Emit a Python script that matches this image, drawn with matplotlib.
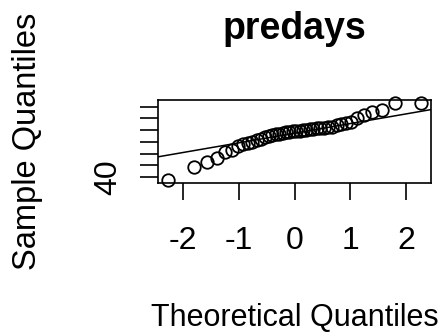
import numpy as np
import matplotlib.pyplot as plt
from statistics import NormalDist

# sorted sample values of predays
predays = [37.5, 48.5, 52.5, 56, 61, 63, 66, 68, 69, 70,
           71.5, 72.5, 74, 75, 76, 76.5, 77, 77.5, 78, 78.5,
           79, 79, 79.5, 80, 80, 80.5, 81, 81.5, 82, 82,
           82.5, 83, 84, 85, 86, 87, 90, 93, 95, 97,
           103, 103]
x_ticks = [-2, -1, 0, 1, 2]
x_labels = ['-2', '-1', '0', '1', '2']
y_ticks = [40, 50, 60, 70, 80, 90, 100]
y_labels = ['40', '', '', '', '', '', '']

plt.rcParams['font.family'] = ['Liberation Sans', 'DejaVu Sans']

# theoretical quantiles like R's qqnorm (ppoints)
n = len(predays)
y = np.sort(np.array(predays, dtype=float))
p = (np.arange(1, n + 1) - 0.5) / n
q = np.array([NormalDist().inv_cdf(v) for v in p])

# qqline through the quartiles
y1, y3 = np.quantile(y, [0.25, 0.75])
x1, x3 = NormalDist().inv_cdf(0.25), NormalDist().inv_cdf(0.75)
slope = (y3 - y1) / (x3 - x1)
inter = y1 - slope * x1

fig = plt.figure(figsize=(4.43, 3.35), dpi=100)
ax = fig.add_axes([158 / 443, 1 - 183 / 335, 273 / 443, 83 / 335])

ax.plot(q, y, 'o', mfc='none', mec='black', ms=9, mew=1.3, clip_on=False)
ax.margins(x=0.04, y=0.04)
ax.axline((0, inter), slope=slope, color='black', lw=1.1)

ax.set_xticks(x_ticks)
ax.set_xticklabels(x_labels)
ax.set_yticks(y_ticks)
ax.set_yticklabels(y_labels)
ax.tick_params(axis='x', length=12, width=1.2, labelsize=23, pad=19)
ax.tick_params(axis='y', length=13, width=1.2, labelsize=23, pad=12, labelrotation=90)
for lab in ax.get_yticklabels():
    lab.set_va('center')
for s in ax.spines.values():
    s.set_linewidth(1.2)

ax.set_xlabel('Theoretical Quantiles', fontsize=22)
ax.xaxis.set_label_coords(0.5, (183 - 318) / 83)
ax.xaxis.label.set_va('center')
ax.set_ylabel('Sample Quantiles', fontsize=23.5)
ax.yaxis.set_label_coords((28 - 158) / 273, 0.5)
ax.yaxis.label.set_va('center')

ax.text(0.5, (183 - 29) / 83, 'predays', transform=ax.transAxes,
        ha='center', va='center', fontsize=27, fontweight='bold')

fig.savefig('out.png', dpi=100)
